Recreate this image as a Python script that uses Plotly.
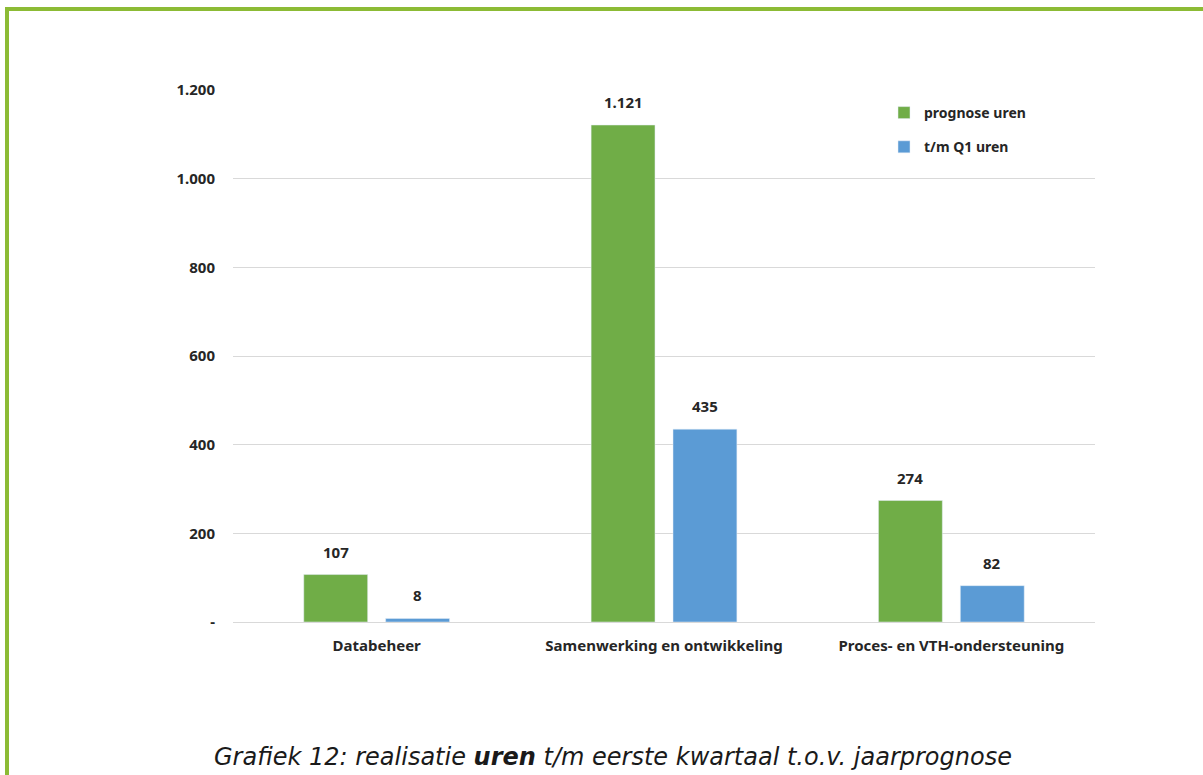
import plotly.graph_objects as go

categories = ["Databeheer", "Samenwerking en ontwikkeling", "Proces- en VTH-ondersteuning"]
prognose_uren = [107, 1121, 274]
q1_uren = [8, 435, 82]
series_names = ["prognose uren", "t/m Q1 uren"]
y_tickvals = [0, 200, 400, 600, 800, 1000, 1200]
y_ticktext = ["-", "200", "400", "600", "800", "1.000", "1.200"]
caption = "Grafiek 12: realisatie <b>uren</b> t/m eerste kwartaal t.o.v. jaarprognose"

W, H = 1203, 775
L, T = 233, 90
pw, ph = 862, 532
R, B = W - L - pw, H - T - ph

GREEN = "#70AD47"
BLUE = "#5B9BD5"
BORDER = "#8CBB35"
TXT = "#262626"
FONT = "Noto Sans"

def px_x(x):
    return (x - L) / pw

def px_y(y):
    return (T + ph - y) / ph

fig = go.Figure()
fig.add_trace(go.Bar(x=categories, y=prognose_uren, name=series_names[0],
                     marker_color=GREEN, legendgroup="a"))
fig.add_trace(go.Bar(x=categories, y=q1_uren, name=series_names[1],
                     marker_color=BLUE, legendgroup="b"))

# value labels
bargap, bargroupgap = 0.43, 0.22
slot_px = pw / len(categories) * (1 - bargap) / 2
for vals, shift in ((prognose_uren, -slot_px / 2), (q1_uren, slot_px / 2)):
    for c, v in zip(categories, vals):
        fig.add_annotation(x=c, y=v, xref="x", yref="y", text=f"<b>{v:,}</b>".replace(",", "."),
                           showarrow=False, xshift=shift, yshift=11, yanchor="bottom",
                           font=dict(family=FONT, size=15, color=TXT))

# caption
fig.add_annotation(x=px_x(613), y=px_y(757), xref="paper", yref="paper",
                   xanchor="center", yanchor="middle", showarrow=False,
                   text=caption,
                   font=dict(family="DejaVu Sans", size=24, color="#1a1a1a", style="italic"))

# page border (green frame)
fig.add_shape(type="line", xref="paper", yref="paper", x0=px_x(7), x1=px_x(7),
              y0=px_y(7), y1=px_y(H + 10), line=dict(color=BORDER, width=4))
fig.add_shape(type="line", xref="paper", yref="paper", x0=px_x(5), x1=px_x(W + 10),
              y0=px_y(9), y1=px_y(9), line=dict(color=BORDER, width=4))

fig.update_layout(
    width=W, height=H,
    margin=dict(l=L, r=R, t=T, b=B),
    paper_bgcolor="white", plot_bgcolor="white",
    barmode="group", bargap=bargap, bargroupgap=bargroupgap,
    font=dict(family=FONT, size=15, color=TXT),
    showlegend=True,
    legend=dict(x=px_x(884), y=px_y(97), xanchor="left", yanchor="top",
                tracegroupgap=13, bgcolor="rgba(0,0,0,0)",
                font=dict(family=FONT, size=14, color=TXT, weight="bold")),
    xaxis=dict(showgrid=False, showline=True, linecolor="#d9d9d9", linewidth=1,
               ticks="outside", ticklen=10, tickcolor="rgba(0,0,0,0)",
               tickfont=dict(family=FONT, size=15, color=TXT, weight="bold")),
    yaxis=dict(range=[0, 1200], tickvals=y_tickvals, ticktext=y_ticktext,
               showgrid=True, gridcolor="#d9d9d9", gridwidth=1, zeroline=False,
               showline=False, ticks="outside", ticklen=14, tickcolor="rgba(0,0,0,0)",
               tickfont=dict(family=FONT, size=15, color=TXT, weight="bold")),
)

fig.write_html("out.html", config={"displayModeBar": False},
               post_script="document.body.style.margin='0';document.body.style.overflow='hidden';")
